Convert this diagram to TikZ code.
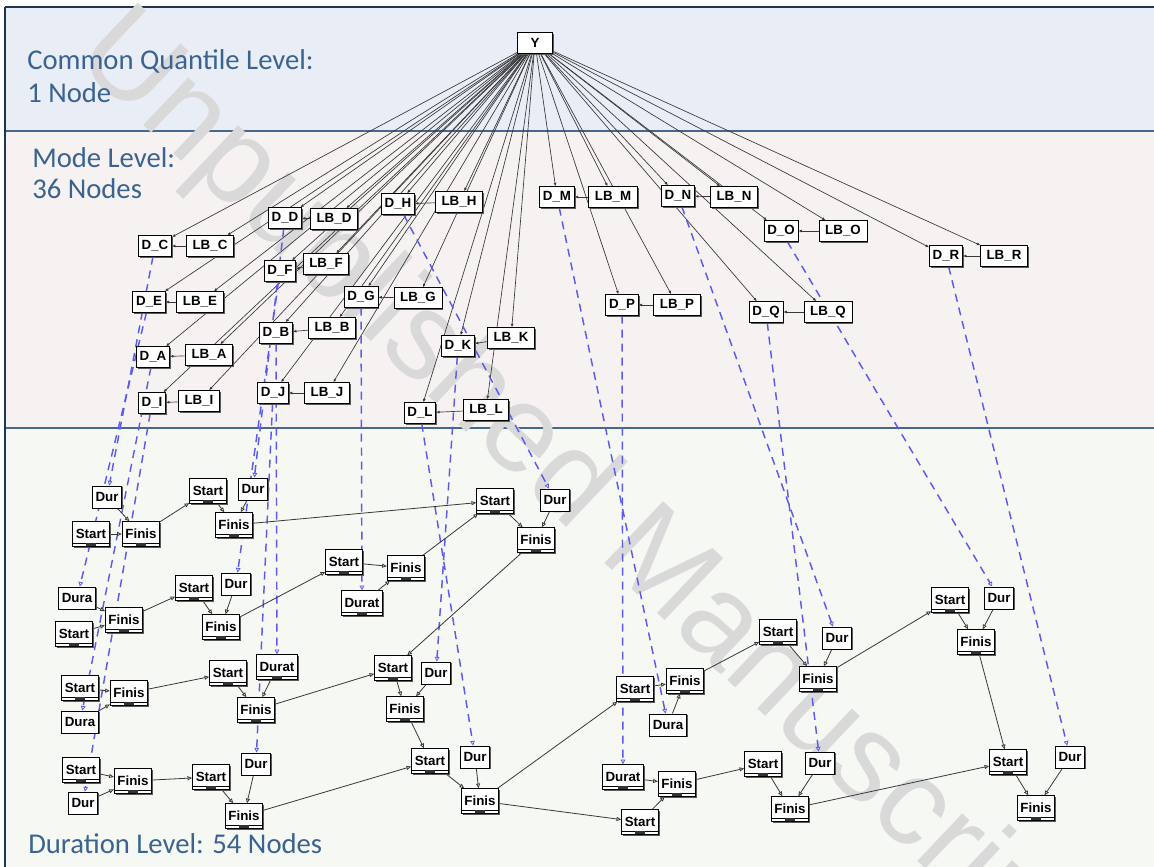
\documentclass[tikz,border=0pt]{standalone}
\usepackage{fontspec}
\setmainfont{Liberation Sans}
\newfontfamily\bandfont{Carlito}
\usetikzlibrary{arrows.meta,shadows}
\definecolor{bandA}{HTML}{E9EEF6}
\definecolor{bandB}{HTML}{F7F2F2}
\definecolor{bandC}{HTML}{F6F8F3}
\definecolor{bandline}{HTML}{45688F}
\definecolor{frameline}{HTML}{1F3552}
\definecolor{lbltext}{HTML}{3A6391}
\definecolor{dashblue}{HTML}{5B5BF2}
\definecolor{edgegray}{HTML}{383838}
\definecolor{wmark}{HTML}{D9D9D9}
\pgfdeclarelayer{bg}
\pgfdeclarelayer{edges}
\pgfsetlayers{bg,edges,main}
\begin{document}
\begin{tikzpicture}[x=0.75pt,y=-0.75pt,
  box/.style={draw=black, line width=0.6pt, fill=white, font=\fontsize{10}{11}\selectfont\bfseries, inner xsep=2.4pt, inner ysep=0pt, general shadow={fill=black!65, shadow xshift=1.1pt, shadow yshift=-1.1pt}},
  mbox/.style={box, minimum height=15.5pt},
  lbbox/.style={mbox, inner xsep=4.6pt},
  durbox/.style={box, minimum height=16.5pt},
  barbox/.style={box, minimum height=18.5pt, path picture={
     \draw[line width=0.4pt] ([yshift=2.6pt]path picture bounding box.south west) -- ([yshift=2.6pt]path picture bounding box.south east);
     \fill[black!80] ([xshift=-3.5pt,yshift=0.6pt]path picture bounding box.south) rectangle ([xshift=3.5pt,yshift=2.4pt]path picture bounding box.south);}},
  medge/.style={draw=edgegray, line width=0.5pt, -{Latex[length=2.6pt,width=2.2pt]}},
  dedge/.style={draw=edgegray, line width=0.6pt, -{Triangle[open,length=3.5pt,width=3pt]}},
  blued/.style={draw=dashblue, line width=1.1pt, dash pattern=on 6pt off 4.5pt, -{Triangle[open,length=3.5pt,width=3.5pt,line width=0.6pt]}},
  lbl/.style={font=\bandfont\fontsize{21.5}{24}\selectfont, text=lbltext, inner sep=0pt, anchor=base west}
]
\useasboundingbox (0,0) rectangle (1154,867);
\begin{pgfonlayer}{bg}
  \fill[white] (0,0) rectangle (1154,867);
  \fill[bandA] (5,7) rectangle (1154,131);
  \fill[bandB] (5,131) rectangle (1154,428);
  \fill[bandC] (5,428) rectangle (1154,867);
  \draw[bandline, line width=1.1pt] (5,131) -- (1154,131);
  \draw[bandline, line width=1.1pt] (5,428) -- (1154,428);
  \draw[frameline, line width=1.4pt] (5,7) -- (1154,7);
  \draw[frameline, line width=1pt] (5,7) -- (5,867);
  \begin{scope}
    \clip (0,0) rectangle (1154,867);
    \node[rotate=-43.5, anchor=base west, inner sep=0pt, text=wmark, font=\fontsize{93}{93}\selectfont] (wm) at (72,58) {Unpublished Manuscript};
  \end{scope}
\end{pgfonlayer}

% band labels
\node[lbl] (t1) at (27,70) {Common Quantile Level:};
\node[lbl] (t2) at (27,103) {1 Node};
\node[lbl] (t3) at (32,167) {Mode Level:};
\node[lbl] (t4) at (32,199) {36 Nodes};
\node[lbl] (t5) at (28,853) {Duration Level: 54 Nodes};

% common quantile level
\node[mbox, minimum width=26pt] (Y) at (535,43) {Y};

% mode level
\node[mbox] (DC) at (155,246) {D\_C};  \node[lbbox] (LBC) at (210,246) {LB\_C};
\node[mbox] (DD) at (285,218) {D\_D};  \node[lbbox] (LBD) at (334,219) {LB\_D};
\node[mbox] (DH) at (398,204) {D\_H};  \node[lbbox] (LBH) at (459,202) {LB\_H};
\node[mbox] (DM) at (557,197) {D\_M};  \node[lbbox] (LBM) at (613,197) {LB\_M};
\node[mbox] (DN) at (678,196) {D\_N};  \node[lbbox] (LBN) at (734,197) {LB\_N};
\node[mbox] (DO) at (781,231) {D\_O};  \node[lbbox] (LBO) at (843,231) {LB\_O};
\node[mbox] (DR) at (946,256) {D\_R};  \node[lbbox] (LBR) at (1004,256) {LB\_R};
\node[mbox] (DF) at (280,271) {D\_F};  \node[lbbox] (LBF) at (326,264) {LB\_F};
\node[mbox] (DE) at (149,302) {D\_E};  \node[lbbox] (LBE) at (200,302) {LB\_E};
\node[mbox] (DG) at (361,297) {D\_G};  \node[lbbox] (LBG) at (418,298) {LB\_G};
\node[mbox] (DP) at (622,305) {D\_P};  \node[lbbox] (LBP) at (677,305) {LB\_P};
\node[mbox] (DQ) at (766,312) {D\_Q};  \node[lbbox] (LBQ) at (828,312) {LB\_Q};
\node[mbox] (DB) at (276,333) {D\_B};  \node[lbbox] (LBB) at (332,328) {LB\_B};
\node[mbox] (DK) at (458,346) {D\_K};  \node[lbbox] (LBK) at (511,338) {LB\_K};
\node[mbox] (DA) at (153,357) {D\_A};  \node[lbbox] (LBA) at (209,355) {LB\_A};
\node[mbox] (DI) at (152,403) {D\_I};  \node[lbbox] (LBI) at (199,401) {LB\_I};
\node[mbox] (DJ) at (273,393) {D\_J};  \node[lbbox] (LBJ) at (327,393) {LB\_J};
\node[mbox] (DL) at (420,413) {D\_L};  \node[lbbox] (LBL) at (486,410) {LB\_L};

% duration level
\node[barbox] (s1) at (91,534) {Start};  \node[durbox] (d1) at (107,497) {Dur};   \node[barbox] (f1) at (141,534) {Finis};
\node[barbox] (s2) at (208,491) {Start}; \node[durbox] (d2) at (253,489) {Dur};   \node[barbox] (f2) at (234,525) {Finis};
\node[barbox] (s3) at (344,562) {Start}; \node[barbox] (d3) at (362,603) {Durat}; \node[barbox] (f3) at (406,568) {Finis};
\node[barbox] (s4) at (74,634) {Start};  \node[durbox] (d4) at (77,598) {Dura};   \node[barbox] (f4) at (124,620) {Finis};
\node[barbox] (s5) at (194,588) {Start}; \node[durbox] (d5) at (236,584) {Dur};   \node[barbox] (f5) at (221,627) {Finis};
\node[barbox] (s6) at (495,501) {Start}; \node[durbox] (d6) at (555,500) {Dur};   \node[barbox] (f6) at (536,540) {Finis};
\node[barbox] (s7) at (80,688) {Start};  \node[durbox] (d7) at (80,722) {Dura};   \node[barbox] (f7) at (129,693) {Finis};
\node[barbox] (s8) at (228,673) {Start}; \node[barbox] (d8) at (277,667) {Durat}; \node[barbox] (f8) at (256,710) {Finis};
\node[barbox] (s9) at (393,668) {Start}; \node[durbox] (d9) at (436,673) {Dur};   \node[barbox] (f9) at (405,709) {Finis};
\node[barbox] (s10) at (81,770) {Start}; \node[durbox] (d10) at (83,803) {Dur};   \node[barbox] (f10) at (133,781) {Finis};
\node[barbox] (s11) at (211,777) {Start};\node[durbox] (d11) at (256,764) {Dur};  \node[barbox] (f11) at (244,816) {Finis};
\node[barbox] (s12) at (430,761) {Start};\node[durbox] (d12) at (475,757) {Dur};  \node[barbox] (f12) at (480,801) {Finis};
\node[barbox] (s13) at (635,689) {Start};\node[durbox] (d13) at (668,725) {Dura}; \node[barbox] (f13) at (685,681) {Finis};
\node[barbox] (s14) at (640,822) {Start};\node[barbox] (d14) at (623,777) {Durat};\node[barbox] (f14) at (677,784) {Finis};
\node[barbox] (s15) at (778,632) {Start};\node[durbox] (d15) at (837,638) {Dur};  \node[barbox] (f15) at (818,679) {Finis};
\node[barbox] (s16) at (763,764) {Start};\node[durbox] (d16) at (820,763) {Dur};  \node[barbox] (f16) at (790,809) {Finis};
\node[barbox] (s17) at (950,600) {Start};\node[durbox] (d17) at (999,598) {Dur};  \node[barbox] (f17) at (976,642) {Finis};
\node[barbox] (s18) at (1008,762) {Start};\node[durbox] (d18) at (1070,757) {Dur}; \node[barbox] (f18) at (1036,808) {Finis};

\begin{pgfonlayer}{edges}
  \foreach \n in {DC,LBC,DD,LBD,DH,LBH,DM,LBM,DN,LBN,DO,LBO,DR,LBR,DF,LBF,DE,LBE,DG,LBG,DP,LBP,DQ,LBQ,DB,LBB,DK,LBK,DA,LBA,DI,LBI,DJ,LBJ,DL,LBL}
    \draw[medge] (Y) -- (\n);
  \foreach \l in {C,D,H,M,N,O,R,F,E,G,P,Q,B,K,A,I,J,L}
    \draw[medge] (LB\l) -- (D\l);
  \foreach \a/\b in {C/d1,E/d4,A/d7,I/d10,D/d2,F/d5,B/d8,J/d11,G/d3,H/d6,K/d9,L/d12,M/d13,P/d14,N/d15,Q/d16,O/d17,R/d18}
    \draw[blued] (D\a) -- (\b);
  \foreach \a/\b in {s1/f1,d1/f1,f1/s2,s2/f2,d2/f2,f2/s6,
                     s4/f4,d4/f4,f4/s5,s5/f5,d5/f5,f5/s3,
                     s3/f3,d3/f3,f3/s6,s6/f6,d6/f6,f6/s9,
                     s7/f7,d7/f7,f7/s8,s8/f8,d8/f8,f8/s9,
                     s9/f9,d9/f9,f9/s12,
                     s10/f10,d10/f10,f10/s11,s11/f11,d11/f11,f11/s12,
                     s12/f12,d12/f12,f12/s13,f12/s14,
                     s13/f13,d13/f13,f13/s15,
                     s14/f14,d14/f14,f14/s16,
                     s15/f15,d15/f15,f15/s17,
                     s16/f16,d16/f16,f16/s18,
                     s17/f17,d17/f17,f17/s18,
                     s18/f18,d18/f18}
    \draw[dedge] (\a) -- (\b);
\end{pgfonlayer}
\end{tikzpicture}
\end{document}
